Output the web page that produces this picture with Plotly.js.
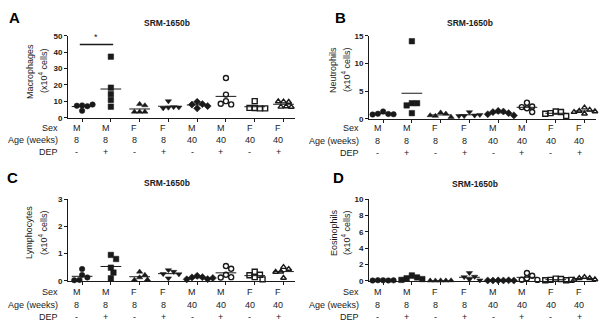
<!DOCTYPE html>
<html><head><meta charset="utf-8">
<script src="https://cdn.plot.ly/plotly-3.0.1.min.js"></script>
<style>html,body{margin:0;padding:0;background:#fff}#chart{width:611px;height:330px}</style>
</head><body><div id="chart"></div>
<script>
// ---- table labels ----
const sexLabels = ['M','M','F','F','M','M','F','F'];
const ageLabels = ['8','8','8','8','40','40','40','40'];
const depLabels = ['-','+','-','+','-','+','-','+'];
const rowNames = ['Sex','Age (weeks)','DEP'];
const panelTitle = 'SRM-1650b';

// ---- data (x10^4 cells), one array per group ----
const macrophages = [
  [7.5, 7.0, 7.3, 8.0, 4.2],
  [37.2, 18.3, 14.4, 10.8, 6.7],
  [8.3, 7.5, 3.6, 3.6, 3.6],
  [10.1, 6.2, 6.5, 5.8, 6.3],
  [9.7, 8.3, 8.0, 7.1, 5.7],
  [24.2, 14.1, 10.1, 8.1, 8.5],
  [10.1, 5.9, 5.7, 6.0, 5.7],
  [9.8, 9.6, 9.9, 6.8, 6.6, 6.5]
];
const neutrophils = [
  [1.3, 0.85, 0.9, 0.8, 0.75],
  [14.0, 2.8, 2.8, 2.4, 1.0],
  [1.1, 0.9, 0.5, 0.3, 0.6],
  [1.2, 0.6, 0.5, 0.7, 0.5],
  [1.4, 1.3, 1.2, 1.0, 0.8, 0.6],
  [2.9, 2.2, 2.1, 1.9, 1.2],
  [1.3, 1.2, 1.0, 0.5, 0.9],
  [2.0, 1.6, 1.4, 1.3, 0.9, 1.2]
];
const lymphocytes = [
  [0.43, 0.21, 0.12, 0.03, 0.02],
  [0.95, 0.8, 0.48, 0.3, 0.09],
  [0.33, 0.21, 0.12, 0.03, 0.04],
  [0.39, 0.33, 0.25, 0.24, 0.09],
  [0.18, 0.13, 0.12, 0.06, 0.05, 0.1],
  [0.54, 0.44, 0.22, 0.13, 0.12],
  [0.33, 0.22, 0.2, 0.13, 0.05],
  [0.5, 0.43, 0.33, 0.32, 0.1]
];
const eosinophils = [
  [0.05, 0.03, 0.06, 0.04, 0.02],
  [0.65, 0.4, 0.3, 0.2, 0.1],
  [0.02, 0.01, 0.0, 0.03, 0.01],
  [0.95, 0.5, 0.45, 0.15, 0.05],
  [0.04, 0.03, 0.02, 0.05, 0.03, 0.02],
  [0.95, 0.6, 0.3, 0.12, 0.1],
  [0.25, 0.2, 0.1, 0.05, 0.05, 0.1],
  [0.45, 0.3, 0.3, 0.15, 0.1]
];
const sigFrom = 0, sigTo = 1, sigValue = 44.7; // significance bar in panel A

// ---- styling ----
const W = 611, H = 330;
const FONT = 'Liberation Sans, Arial, sans-serif';
const INK = '#1a1a1a';
const symbols = ['circle','square','triangle-up','triangle-down','diamond','circle-open','square-open','triangle-up-open'];
const MS = 5.5;
const px = v => v / W;
const py = v => (H - v) / H;
const xRange = [-0.49, 7.4];

const panels = [
  {letter:'A', data:macrophages, name:'Macrophages', xd:[68,295], yd:[117.7,35.7], range:[0,50], dtick:10,
   lx:15, ly:17, tx:167, ty:23, t1x:30, t2x:43, tcy:71, rowY:[128,140,152], labR:60},
  {letter:'B', data:neutrophils, name:'Neutrophils', xd:[369,596], yd:[118.7,35.7], range:[0,15], dtick:5,
   lx:340, ly:17, tx:470, ty:23, t1x:333, t2x:346, tcy:70, rowY:[128,141,153], labR:361},
  {letter:'C', data:lymphocytes, name:'Lymphocytes', xd:[68,295], yd:[280.7,199.3], range:[0,3], dtick:1,
   lx:12, ly:178, tx:167, ty:183, t1x:29, t2x:43, tcy:233, rowY:[291.7,305,316.7], labR:60},
  {letter:'D', data:eosinophils, name:'Eosinophils', xd:[369,596], yd:[280.7,199.3], range:[0,10], dtick:2,
   lx:338, ly:178, tx:475, ty:184, t1x:334, t2x:346, tcy:233, rowY:[291.7,305,316.7], labR:361}
];

function swarm(vals, pxY, pxX) {
  const placed = [], offs = [];
  const d = MS * 0.95;
  const cands = [0];
  for (let k = 1; k < 16; k++) cands.push(k*d/2, -k*d/2);
  vals.forEach(v => {
    const yy = v * pxY;
    for (const c of cands) {
      if (placed.every(p => Math.hypot(p.x - c, p.y - yy) >= d)) {
        placed.push({x:c, y:yy}); offs.push(c / pxX); break;
      }
    }
  });
  return offs;
}

const traces = [], annotations = [];
const layout = {
  width: W, height: H, margin:{l:0,r:0,t:0,b:0},
  paper_bgcolor:'#fff', plot_bgcolor:'#fff', showlegend:false,
  font:{family:FONT, color:INK, size:9}
};

panels.forEach((p, i) => {
  const n = i === 0 ? '' : String(i+1);
  const xa = 'x' + n, ya = 'y' + n;
  const xDom = [px(p.xd[0]), px(p.xd[1])];
  const yDom = [py(p.yd[0]), py(p.yd[1])];
  layout['xaxis' + n] = {
    domain:xDom, range:xRange, anchor:ya, showline:true, linecolor:INK, linewidth:1,
    ticks:'outside', ticklen:3, tickcolor:INK, tickvals:[0,1,2,3,4,5,6,7],
    showticklabels:false, showgrid:false, zeroline:false, fixedrange:true
  };
  layout['yaxis' + n] = {
    domain:yDom, range:p.range, anchor:xa, showline:true, linecolor:INK, linewidth:1,
    ticks:'outside', ticklen:3, tickcolor:INK, dtick:p.dtick, tick0:0,
    tickfont:{family:FONT, size:8, color:INK, weight:'bold'},
    showgrid:false, zeroline:false, fixedrange:true
  };
  const pxY = (p.yd[0] - p.yd[1]) / (p.range[1] - p.range[0]);
  const pxX = (p.xd[1] - p.xd[0]) / (xRange[1] - xRange[0]);
  p.data.forEach((vals, g) => {
    const offs = swarm(vals, pxY, pxX);
    const open = symbols[g].endsWith('open');
    traces.push({
      type:'scatter', mode:'markers', xaxis:xa, yaxis:ya,
      x: offs.map(o => g + o), y: vals, cliponaxis:false,
      marker:{symbol:symbols[g], size: open ? MS - 0.5 : MS, color: INK,
              line:{color:INK, width: open ? 1.4 : 0.5}},
      hoverinfo:'skip'
    });
    const mean = vals.reduce((a,b)=>a+b,0) / vals.length;
    traces.push({
      type:'scatter', mode:'lines', xaxis:xa, yaxis:ya,
      x:[g-0.36, g+0.36], y:[mean, mean], line:{color:INK, width:1}, hoverinfo:'skip'
    });
    // table values
    [sexLabels, ageLabels, depLabels].forEach((row, r) => {
      annotations.push({xref:xa, yref:'paper', x:g - 0.18, y:py(p.rowY[r]), text:row[g],
        showarrow:false, xanchor:'center', yanchor:'middle', font:{size:9, color:INK}});
    });
  });
  rowNames.forEach((t, r) => {
    annotations.push({xref:'paper', yref:'paper', x:px(p.labR), y:py(p.rowY[r]), text:t,
      showarrow:false, xanchor:'right', yanchor:'middle', font:{size:9, color:INK}});
  });
  annotations.push({xref:'paper', yref:'paper', x:px(p.lx), y:py(p.ly), text:p.letter,
    showarrow:false, xanchor:'center', yanchor:'middle', font:{size:15, color:'#000', weight:'bold'}});
  annotations.push({xref:'paper', yref:'paper', x:px(p.tx), y:py(p.ty), text:panelTitle,
    showarrow:false, xanchor:'center', yanchor:'middle', font:{size:8.5, color:INK, weight:'bold'}});
  annotations.push({xref:'paper', yref:'paper', x:px(p.t1x), y:py(p.tcy), text:p.name, textangle:-90,
    showarrow:false, xanchor:'center', yanchor:'middle', font:{size:9, color:INK}});
  annotations.push({xref:'paper', yref:'paper', x:px(p.t2x), y:py(p.tcy), text:'(x10<sup>4</sup> cells)', textangle:-90,
    showarrow:false, xanchor:'center', yanchor:'middle', font:{size:9, color:INK}});
});

// significance bar (panel A)
traces.push({type:'scatter', mode:'lines', xaxis:'x', yaxis:'y', x:[sigFrom-0.08, sigTo+0.08], y:[sigValue, sigValue],
  line:{color:INK, width:1.5}, hoverinfo:'skip', cliponaxis:false});
annotations.push({xref:'x', yref:'y', x:(sigFrom+sigTo)/2, y:sigValue, text:'*', showarrow:false,
  xanchor:'center', yanchor:'bottom', font:{size:9, color:INK}});

layout.annotations = annotations;
Plotly.newPlot('chart', traces, layout, {displayModeBar:false, staticPlot:true});
</script>
</body></html>
